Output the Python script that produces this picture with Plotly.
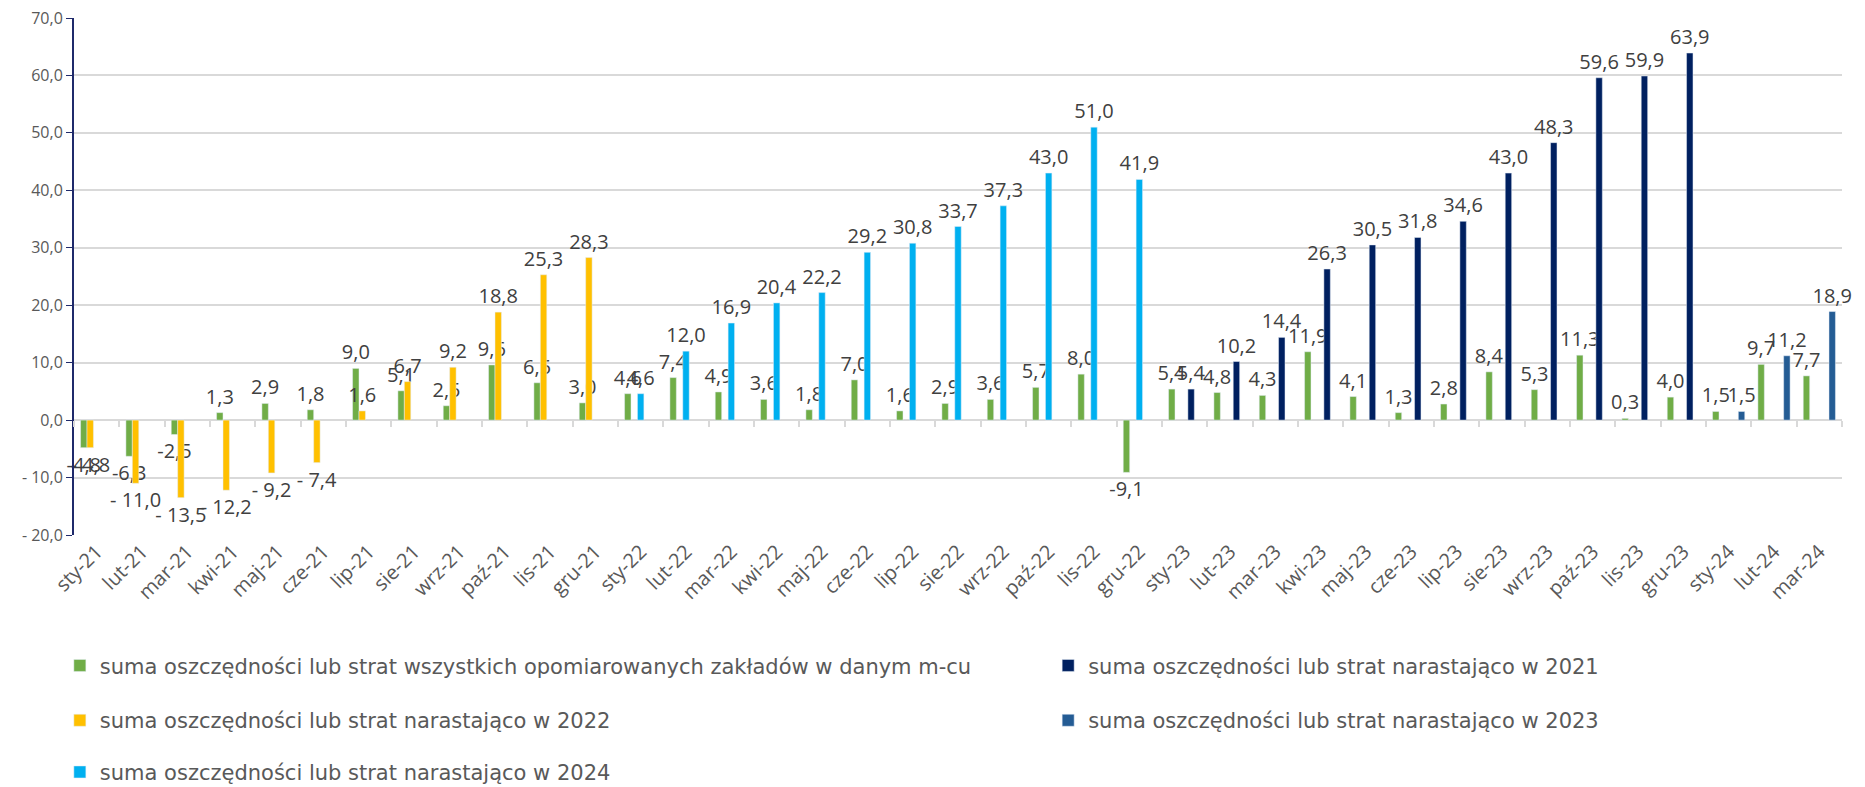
import plotly.graph_objects as go

months = ["sty-21", "lut-21", "mar-21", "kwi-21", "maj-21", "cze-21", "lip-21", "sie-21", "wrz-21", "paź-21", "lis-21", "gru-21",
          "sty-22", "lut-22", "mar-22", "kwi-22", "maj-22", "cze-22", "lip-22", "sie-22", "wrz-22", "paź-22", "lis-22", "gru-22",
          "sty-23", "lut-23", "mar-23", "kwi-23", "maj-23", "cze-23", "lip-23", "sie-23", "wrz-23", "paź-23", "lis-23", "gru-23",
          "sty-24", "lut-24", "mar-24"]

monthly = [-4.8, -6.3, -2.5, 1.3, 2.9, 1.8, 9.0, 5.1, 2.5, 9.6, 6.5, 3.0,
           4.6, 7.4, 4.9, 3.6, 1.8, 7.0, 1.6, 2.9, 3.6, 5.7, 8.0, -9.1,
           5.4, 4.8, 4.3, 11.9, 4.1, 1.3, 2.8, 8.4, 5.3, 11.3, 0.3, 4.0,
           1.5, 9.7, 7.7]
cum_21 = [-4.8, -11.0, -13.5, -12.2, -9.2, -7.4, 1.6, 6.7, 9.2, 18.8, 25.3, 28.3]
cum_22 = [4.6, 12.0, 16.9, 20.4, 22.2, 29.2, 30.8, 33.7, 37.3, 43.0, 51.0, 41.9]
cum_23 = [5.4, 10.2, 14.4, 26.3, 30.5, 31.8, 34.6, 43.0, 48.3, 59.6, 59.9, 63.9]
cum_24 = [1.5, 11.2, 18.9]

y_ticks = [-20, -10, 0, 10, 20, 30, 40, 50, 60, 70]

name_m = "suma oszczędności lub strat wszystkich opomiarowanych zakładów w danym m-cu"
name_21 = "suma oszczędności lub strat narastająco w 2021"
name_22 = "suma oszczędności lub strat narastająco w 2022"
name_23 = "suma oszczędności lub strat narastająco w 2023"
name_24 = "suma oszczędności lub strat narastająco w 2024"

FONT = "Open Sans"
GREY = "#595959"


def fmt(v, spaced=False):
    s = f"{abs(v):.1f}".replace(".", ",")
    if v < 0:
        return ("- " if spaced else "-") + s
    return s


def bar(x, y, name, color, group, legend, rank, spaced=False):
    return go.Bar(
        x=x, y=y, name=name, marker_color=color, offsetgroup=group,
        text=[fmt(v, spaced) for v in y], textposition="outside",
        constraintext="none", cliponaxis=False,
        textfont=dict(family=FONT, size=20, color="#404040"),
        legend=legend, legendrank=rank, showlegend=True,
    )


fig = go.Figure()
fig.add_trace(bar(months, monthly, name_m, "#70AD47", "a", "legend", 1))
fig.add_trace(bar(months[0:12], cum_21, name_22, "#FFC000", "b", "legend3", 3, spaced=True))
fig.add_trace(bar(months[12:24], cum_22, name_24, "#00B0F0", "c", "legend5", 5))
fig.add_trace(bar(months[24:36], cum_23, name_21, "#002060", "d", "legend2", 2))
fig.add_trace(bar(months[36:39], cum_24, name_23, "#245C94", "e", "legend4", 4))

# small ticks on the zero line between categories
fig.add_trace(go.Scatter(x=[None], y=[None], xaxis="x2", showlegend=False, hoverinfo="skip"))

leg = dict(font=dict(family="DejaVu Sans", size=21, color=GREY), bgcolor="rgba(0,0,0,0)",
           xanchor="left", yanchor="middle", itemwidth=30)

# page body adds an 8px offset, so the figure is sized to fit inside the window
fig.update_layout(
    width=1857, height=779,
    margin=dict(l=66, r=23, t=10, b=252, autoexpand=False),
    plot_bgcolor="white", paper_bgcolor="white",
    barmode="group", bargap=0.29, bargroupgap=0,
    font=dict(family=FONT, color=GREY),
    showlegend=True,
    legend=dict(leg, x=-0.008, y=-0.253),
    legend2=dict(leg, x=0.551, y=-0.253),
    legend3=dict(leg, x=-0.008, y=-0.359),
    legend4=dict(leg, x=0.551, y=-0.359),
    legend5=dict(leg, x=-0.008, y=-0.459),
    xaxis=dict(
        type="category", categoryarray=months, tickangle=-45,
        tickfont=dict(family=FONT, size=20, color=GREY),
        showgrid=False, showline=False, ticks="",
    ),
    xaxis2=dict(
        overlaying="x", anchor="free", position=20 / 90,
        range=[-0.5, len(months) - 0.5], tick0=-0.5, dtick=1,
        ticks="outside", ticklen=6, tickcolor="#D9D9D9", tickwidth=1.5,
        showticklabels=False, showgrid=False, showline=False, zeroline=False,
    ),
    yaxis=dict(
        range=[-20, 70], tickvals=y_ticks, ticktext=[fmt(v, True) for v in y_ticks],
        tickfont=dict(family=FONT, size=16, color=GREY), ticklabeloverflow="allow",
        showgrid=True, gridcolor="#D9D9D9", gridwidth=1.5,
        zeroline=True, zerolinecolor="#D9D9D9", zerolinewidth=2,
        showline=True, linecolor="#1F2A6B", linewidth=2,
        ticks="outside", ticklen=6, tickcolor="#1F2A6B",
    ),
)

fig.write_html("out.html")
